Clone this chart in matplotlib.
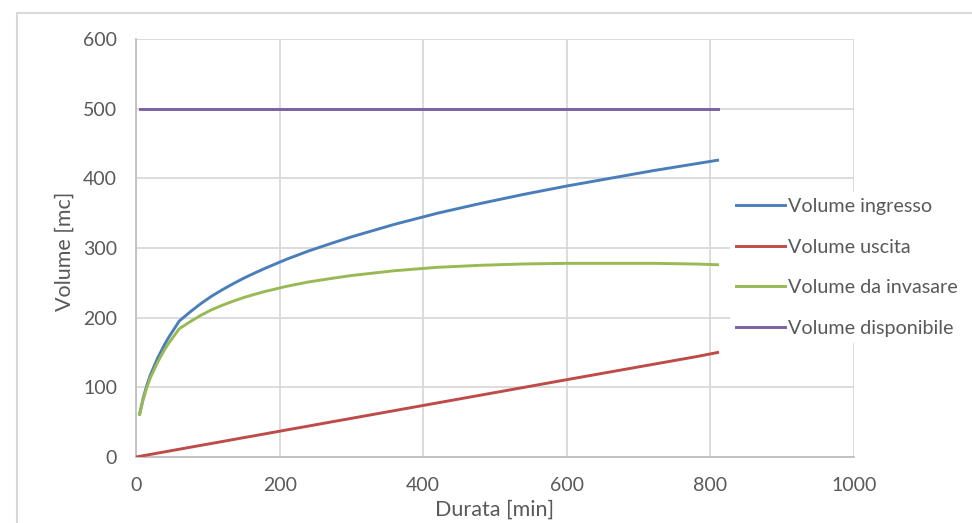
import matplotlib.pyplot as plt
from matplotlib.lines import Line2D

plt.rcParams['font.family'] = ['Lato', 'DejaVu Sans']

# durations [min] and volumes [mc]
durata = [5, 10, 15, 20, 25, 30, 35, 40, 45, 50, 55, 60, 75, 90, 105, 120, 135, 150,
          165, 180, 210, 240, 270, 300, 360, 420, 480, 540, 600, 660, 720, 780, 810]
vol_ingresso = [62, 85, 103, 118, 130, 142, 152, 162, 171, 179, 187, 195, 208, 220, 230.7,
                240, 248.6, 256.7, 264, 271, 284, 295.6, 306, 316, 334, 350, 364, 377, 389,
                400, 411, 421, 426]
vol_uscita = [0.9, 1.9, 2.8, 3.7, 4.6, 5.6, 6.5, 7.4, 8.3, 9.3, 10.2, 11.1, 13.9, 16.7,
              19.4, 22.2, 25, 27.8, 30.5, 33.3, 38.9, 44.4, 50, 55.5, 66.6, 77.7, 88.8,
              99.9, 111, 122, 133, 144, 150]
vol_invasare = [61, 83, 100, 114, 125, 136, 145.5, 154.6, 162.7, 169.7, 176.8, 184, 194,
                203.3, 211.3, 217.8, 223.6, 228.9, 233.5, 237.7, 245.1, 251.2, 256, 260.5,
                267.4, 272.3, 275.2, 277.1, 278, 278, 278, 277, 276]
vol_disponibile = [500] * len(durata)

uscita_x = [0] + durata
uscita_y = [0] + vol_uscita

labels = ['Volume ingresso', 'Volume uscita', 'Volume da invasare', 'Volume disponibile']
colors = ['#4a7ebb', '#be4b48', '#98b954', '#7d60a0']

txt = '#595959'
grid = '#d9d9d9'

fig = plt.figure(figsize=(9.72, 5.23), dpi=100)
ax = fig.add_axes([0.140, 0.1262, 0.7386, 0.7992])

ax.plot(durata, vol_ingresso, color=colors[0], lw=2.1, zorder=3)
ax.plot(uscita_x, uscita_y, color=colors[1], lw=2.1, zorder=3)
ax.plot(durata, vol_invasare, color=colors[2], lw=2.1, zorder=3)
ax.plot(durata, vol_disponibile, color=colors[3], lw=2.1, zorder=3)

ax.set_xlim(0, 1000)
ax.set_ylim(0, 600)
ax.set_xticks(range(0, 1001, 200))
ax.set_yticks(range(0, 601, 100))
ax.grid(True, color=grid, lw=1.3)
ax.set_axisbelow(True)
for s in ['top', 'right']:
    ax.spines[s].set_visible(False)
for s in ['left', 'bottom']:
    ax.spines[s].set_color('#bfbfbf')
    ax.spines[s].set_linewidth(1.3)
ax.tick_params(length=0, labelsize=14, colors=txt)
ax.tick_params(axis='x', pad=14.5)
ax.tick_params(axis='y', pad=13.7)
ax.set_xlabel('Durata [min]', fontsize=15.5, color=txt, va='center')
ax.set_ylabel('Volume [mc]', fontsize=15.5, color=txt, va='center')
ax.xaxis.set_label_coords(0.5, -0.1268)
ax.yaxis.set_label_coords(-0.0989, 0.4928)

handles = [Line2D([0], [0], color=c, lw=2.1) for c in colors]
leg = fig.legend(handles, labels, loc='center left', bbox_to_anchor=(0.751, 0.4885),
                 frameon=True, fontsize=14.2, handlelength=2.5, handletextpad=0.15,
                 labelspacing=1.2, borderaxespad=0, borderpad=0.3)
leg.get_frame().set_edgecolor('none')
leg.get_frame().set_facecolor('white')
leg.get_frame().set_alpha(1)
for t in leg.get_texts():
    t.set_color(txt)

# outer chart border
fig.add_artist(Line2D([17 / 972, 1], [1 - 13 / 523, 1 - 13 / 523], color='#d9d9d9', lw=1.5))
fig.add_artist(Line2D([17 / 972, 17 / 972], [0, 1 - 13 / 523], color='#d9d9d9', lw=1.5))

fig.savefig('out.png', dpi=100)
